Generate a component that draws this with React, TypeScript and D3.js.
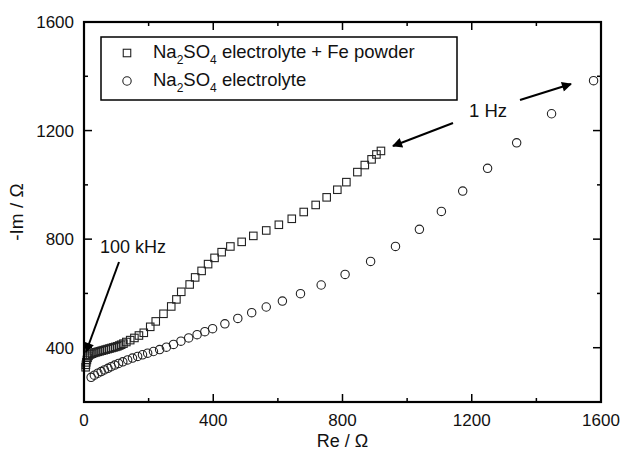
import { useEffect, useRef } from 'react';
import * as d3 from 'd3';

// Na2SO4 electrolyte + Fe powder (squares)
const feRe = [5, 6, 7, 9, 11, 14, 19, 25, 31, 37, 43, 49, 55, 61, 67, 73, 79, 85, 91, 97, 103, 109, 115, 122, 131, 143, 156, 170, 185, 205, 222, 246, 270, 286, 301, 327, 344, 364, 384, 404, 426, 453, 488, 524, 564, 603, 643, 680, 717, 751, 784, 812, 846, 869, 890, 905, 919];
const feIm = [328, 337, 346, 355, 363, 370, 375, 378, 381, 383, 385, 387, 389, 391, 393, 395, 397, 399, 401, 403, 405, 408, 411, 415, 421, 428, 436, 445, 455, 477, 497, 525, 552, 578, 606, 633, 659, 683, 708, 731, 752, 773, 790, 812, 832, 853, 875, 900, 926, 954, 982, 1010, 1047, 1073, 1094, 1112, 1125];

// Na2SO4 electrolyte (circles)
const naRe = [22, 32, 43, 53, 63, 74, 84, 95, 107, 120, 135, 150, 166, 181, 197, 215, 234, 255, 277, 300, 324, 350, 374, 398, 436, 476, 519, 564, 614, 670, 734, 808, 887, 964, 1038, 1106, 1172, 1249, 1339, 1447, 1577];
const naIm = [291, 299, 306, 312, 318, 324, 330, 336, 342, 348, 355, 362, 368, 374, 380, 386, 393, 402, 412, 424, 436, 448, 459, 470, 488, 508, 529, 550, 572, 599, 631, 670, 718, 773, 836, 902, 977, 1061, 1155, 1262, 1384];

const xMajor = [0, 400, 800, 1200, 1600];
const xMinor = [200, 600, 1000, 1400];
const yMajor = [400, 800, 1200, 1600];
const yMinor = [600, 1000, 1400];

const FONT = 'Liberation Sans, Arial, Helvetica, sans-serif';

export default function App() {
  const svgRef = useRef<SVGSVGElement>(null);

  useEffect(() => {
    const svg = d3.select(svgRef.current);
    svg.selectAll('*').remove();

    const left = 84;
    const right = 601;
    const top = 22;
    const bottom = 402;

    const x = d3.scaleLinear().domain([0, 1600]).range([left, right]);
    const y = d3.scaleLinear().domain([200, 1600]).range([bottom, top]);

    svg
      .append('defs')
      .append('marker')
      .attr('id', 'arrow')
      .attr('viewBox', '0 0 10 10')
      .attr('refX', 9)
      .attr('refY', 5)
      .attr('markerWidth', 7)
      .attr('markerHeight', 5)
      .attr('markerUnits', 'strokeWidth')
      .attr('orient', 'auto')
      .append('path')
      .attr('d', 'M0,0 L10,5 L0,10 z')
      .attr('fill', '#000');

    // data marks
    const sq = 7.5;
    svg
      .append('g')
      .selectAll('rect')
      .data(feRe.map((d, i) => [d, feIm[i]]))
      .enter()
      .append('rect')
      .attr('x', (d) => x(d[0]) - sq / 2)
      .attr('y', (d) => y(d[1]) - sq / 2)
      .attr('width', sq)
      .attr('height', sq)
      .attr('fill', 'none')
      .attr('stroke', '#222')
      .attr('stroke-width', 1.1);

    svg
      .append('g')
      .selectAll('circle')
      .data(naRe.map((d, i) => [d, naIm[i]]))
      .enter()
      .append('circle')
      .attr('cx', (d) => x(d[0]))
      .attr('cy', (d) => y(d[1]))
      .attr('r', 4.2)
      .attr('fill', 'none')
      .attr('stroke', '#222')
      .attr('stroke-width', 1.1);

    // frame + ticks
    const axes = svg.append('g').attr('stroke', '#000');
    const tick = (xs: number[], ys: number[], len: number) => {
      xs.forEach((v) => {
        axes.append('line').attr('x1', x(v)).attr('x2', x(v)).attr('y1', bottom).attr('y2', bottom - len).attr('stroke-width', 1.5);
        axes.append('line').attr('x1', x(v)).attr('x2', x(v)).attr('y1', top).attr('y2', top + len).attr('stroke-width', 1.5);
      });
      ys.forEach((v) => {
        axes.append('line').attr('y1', y(v)).attr('y2', y(v)).attr('x1', left).attr('x2', left + len).attr('stroke-width', 1.5);
        axes.append('line').attr('y1', y(v)).attr('y2', y(v)).attr('x1', right).attr('x2', right - len).attr('stroke-width', 1.5);
      });
    };
    tick(xMajor, yMajor, 8);
    tick(xMinor, yMinor, 4);
    axes
      .append('rect')
      .attr('x', left)
      .attr('y', top)
      .attr('width', right - left)
      .attr('height', bottom - top)
      .attr('fill', 'none')
      .attr('stroke-width', 2.2);

    const txt = svg.append('g').attr('font-family', FONT).attr('font-size', 17).attr('fill', '#111');
    xMajor.forEach((v) => {
      txt.append('text').attr('x', x(v)).attr('y', 426).attr('text-anchor', 'middle').text(v);
    });
    yMajor.forEach((v) => {
      txt.append('text').attr('x', left - 10).attr('y', y(v) + 6).attr('text-anchor', 'end').text(v);
    });
    txt.append('text').attr('x', (left + right) / 2).attr('y', 447).attr('text-anchor', 'middle').attr('font-size', 18).text('Re / Ω');
    txt
      .append('text')
      .attr('transform', `translate(23, ${(top + bottom) / 2}) rotate(-90)`)
      .attr('text-anchor', 'middle')
      .attr('font-size', 19)
      .text('-Im / Ω');

    // annotations
    txt.append('text').attr('x', 469).attr('y', 117).attr('font-size', 18.5).text('1 Hz');
    txt.append('text').attr('x', 100).attr('y', 253).attr('font-size', 18).text('100 kHz');

    const arrows = [
      [520, 100, 571, 84],
      [453, 123, 393, 146],
      [119, 262, 86, 352],
    ];
    svg
      .append('g')
      .selectAll('line')
      .data(arrows)
      .enter()
      .append('line')
      .attr('x1', (d) => d[0])
      .attr('y1', (d) => d[1])
      .attr('x2', (d) => d[2])
      .attr('y2', (d) => d[3])
      .attr('stroke', '#000')
      .attr('stroke-width', 2)
      .attr('marker-end', 'url(#arrow)');

    // legend
    const lg = svg.append('g');
    lg.append('rect')
      .attr('x', 101)
      .attr('y', 37)
      .attr('width', 356)
      .attr('height', 63)
      .attr('fill', '#fff')
      .attr('stroke', '#000')
      .attr('stroke-width', 1.5);
    lg.append('rect')
      .attr('x', 127 - sq / 2)
      .attr('y', 53 - sq / 2)
      .attr('width', sq)
      .attr('height', sq)
      .attr('fill', 'none')
      .attr('stroke', '#222')
      .attr('stroke-width', 1.1);
    lg.append('circle').attr('cx', 127).attr('cy', 81).attr('r', 4.2).attr('fill', 'none').attr('stroke', '#222').attr('stroke-width', 1.1);

    const formula = (g: d3.Selection<SVGTextElement, unknown, null, undefined>) => {
      g.append('tspan').text('Na');
      g.append('tspan').attr('font-size', 12).attr('dy', 6).text('2');
      g.append('tspan').attr('dy', -6).text('SO');
      g.append('tspan').attr('font-size', 12).attr('dy', 6).text('4');
    };
    const l1 = lg.append('text').attr('x', 153).attr('y', 58).attr('font-family', FONT).attr('font-size', 18.5).attr('fill', '#111');
    formula(l1);
    l1.append('tspan').attr('dy', -6).text(' electrolyte + Fe powder');
    const l2 = lg.append('text').attr('x', 153).attr('y', 86).attr('font-family', FONT).attr('font-size', 18.5).attr('fill', '#111');
    formula(l2);
    l2.append('tspan').attr('dy', -6).text(' electrolyte');
  }, []);

  return (
    <div>
      <svg ref={svgRef} width={625} height={450} style={{ position: 'absolute', left: 0, top: 0, background: '#fff' }} />
    </div>
  );
}
